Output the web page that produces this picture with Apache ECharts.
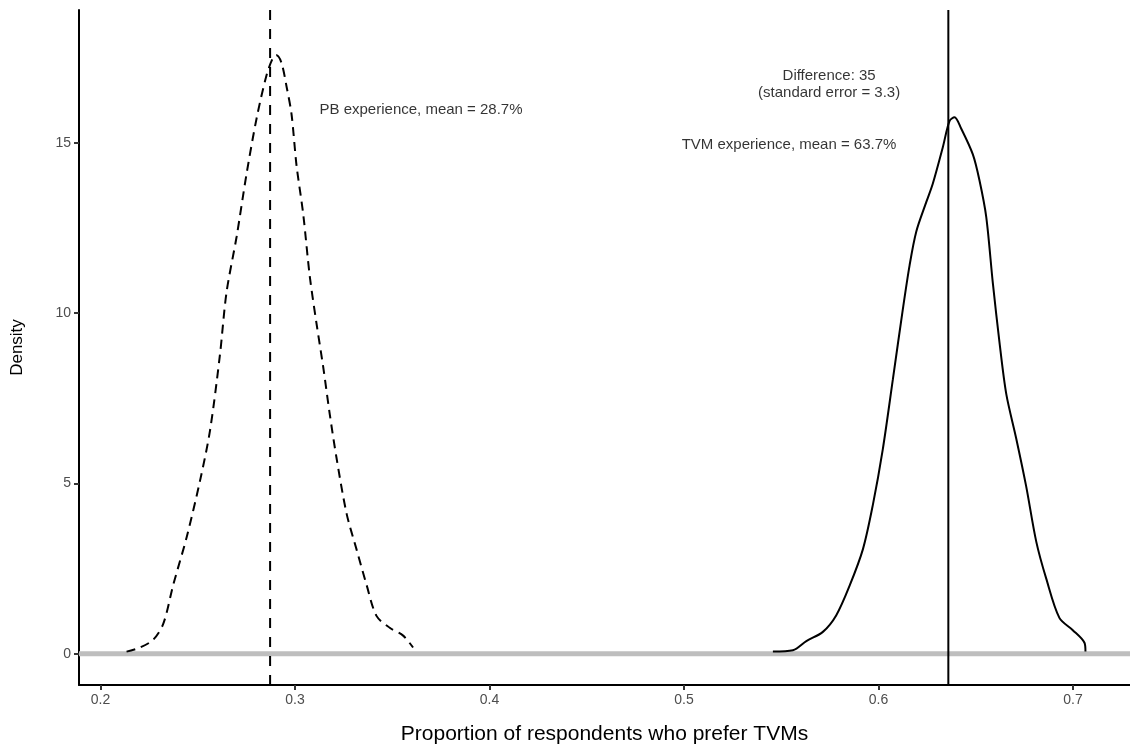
<!DOCTYPE html>
<html>
<head>
<meta charset="utf-8">
<script src="https://cdn.jsdelivr.net/npm/echarts@6/dist/echarts.min.js"></script>
<style>
  html, body { margin: 0; padding: 0; background: #fff; }
  #main { width: 1130px; height: 750px; }
</style>
</head>
<body>
<div id="main"></div>
<script>
// density of PB-experience group (dashed)
var pbX = [0.2134, 0.2203, 0.2271, 0.2323, 0.2374, 0.2443, 0.2511, 0.2563, 0.2614, 0.2648, 0.2700, 0.2751, 0.2803, 0.2854, 0.2888, 0.2905,
           0.2931, 0.2957, 0.2982, 0.3008, 0.3042, 0.3076, 0.3111, 0.3145, 0.3179, 0.3214, 0.3265, 0.3316, 0.3368, 0.3419, 0.3487, 0.3556, 0.3607];
var pbY = [0.06, 0.18, 0.41, 0.88, 2.02, 3.42, 5.06, 6.55, 8.77, 10.61, 12.25, 14.09, 15.73, 16.99, 17.51, 17.57,
           17.34, 16.64, 15.85, 14.33, 12.92, 11.08, 9.68, 8.42, 7.02, 5.73, 4.12, 3.07, 2.02, 1.11, 0.76, 0.53, 0.18];
// density of TVM-experience group (solid)
var tvmX = [0.5457, 0.5560, 0.5629, 0.5714, 0.5783, 0.5851, 0.5920, 0.5971, 0.6022, 0.6074, 0.6125, 0.6160, 0.6194, 0.6245, 0.6279, 0.6331, 0.6365, 0.6391,
            0.6425, 0.6485, 0.6519, 0.6554, 0.6588, 0.6622, 0.6657, 0.6708, 0.6759, 0.6811, 0.6862, 0.6930, 0.6999, 0.7059, 0.7064];
var tvmY = [0.06, 0.10, 0.37, 0.64, 1.13, 1.99, 3.07, 4.37, 6.00, 8.06, 10.11, 11.41, 12.39, 13.25, 13.80, 14.88, 15.64, 15.75,
            15.42, 14.66, 13.90, 12.82, 10.87, 9.14, 7.62, 6.32, 4.92, 3.29, 2.21, 1.05, 0.69, 0.32, 0.06];
var pbMean = 0.2872;
var tvmMean = 0.6359;
var xTicks = [0.2, 0.3, 0.4, 0.5, 0.6, 0.7];
var yTicks = [0, 5, 10, 15];
var xRange = [0.18895, 0.7293];
var yRange = [-0.92, 18.9];
var notes = [
    [0.3126, 15.96, 'PB experience, mean = 28.7%', 'left'],
    [0.5746, 16.73, 'Difference: 35\n(standard error = 3.3)', 'center'],
    [0.5540, 14.95, 'TVM experience, mean = 63.7%', 'center']
];

function zip(xs, ys) {
    return xs.map(function (x, i) { return [x, ys[i]]; });
}

var chart = echarts.init(document.getElementById('main'));
var font = 'Liberation Sans, Arial, sans-serif';

chart.setOption({
    animation: false,
    grid: { left: 79, right: 0, top: 10, bottom: 62 },
    xAxis: {
        type: 'value',
        min: xRange[0],
        max: xRange[1],
        name: 'Proportion of respondents who prefer TVMs',
        nameLocation: 'middle',
        nameGap: 39,
        nameTextStyle: { fontFamily: font, fontSize: 21, color: '#000' },
        axisLine: { onZero: false, lineStyle: { color: '#000', width: 2 } },
        axisTick: { customValues: xTicks, length: 5, lineStyle: { color: '#333', width: 2 } },
        axisLabel: { customValues: xTicks, fontFamily: font, fontSize: 14, color: '#4d4d4d', margin: 8 },
        splitLine: { show: false }
    },
    yAxis: {
        type: 'value',
        min: yRange[0],
        max: yRange[1],
        name: 'Density',
        nameLocation: 'middle',
        nameGap: 53,
        nameTextStyle: { fontFamily: font, fontSize: 17, color: '#000' },
        axisLine: { onZero: false, lineStyle: { color: '#000', width: 2 } },
        axisTick: { customValues: yTicks, length: 5, lineStyle: { color: '#333', width: 2 } },
        axisLabel: { customValues: yTicks, fontFamily: font, fontSize: 14, color: '#4d4d4d', margin: 8 },
        splitLine: { show: false }
    },
    series: [
        {
            // grey zero baseline
            type: 'line',
            data: [[xRange[0], 0], [xRange[1], 0]],
            showSymbol: false,
            silent: true,
            lineStyle: { color: '#bebebe', width: 5 }
        },
        {
            name: 'PB',
            type: 'line',
            data: zip(pbX, pbY),
            smooth: 0.3,
            showSymbol: false,
            lineStyle: { color: '#000', width: 2, type: [9, 6] }
        },
        {
            name: 'TVM',
            type: 'line',
            data: zip(tvmX, tvmY),
            smooth: 0.3,
            showSymbol: false,
            lineStyle: { color: '#000', width: 2, type: 'solid' }
        },
        {
            // mean lines
            type: 'line',
            data: [[pbMean, yRange[0]], [pbMean, yRange[1]]],
            showSymbol: false,
            silent: true,
            lineStyle: { color: '#000', width: 2, type: [10, 9] }
        },
        {
            type: 'line',
            data: [[tvmMean, yRange[0]], [tvmMean, yRange[1]]],
            showSymbol: false,
            silent: true,
            lineStyle: { color: '#000', width: 2, type: 'solid' }
        },
        {
            type: 'scatter',
            symbolSize: 0,
            silent: true,
            data: notes.map(function (n) {
                return {
                    value: [n[0], n[1]],
                    label: {
                        show: true,
                        position: n[3] === 'left' ? 'right' : 'inside',
                        distance: 0,
                        formatter: n[2],
                        align: n[3],
                        verticalAlign: 'middle',
                        fontFamily: font,
                        fontSize: 15,
                        lineHeight: 17,
                        color: '#000'
                    }
                };
            })
        }
    ]
});
</script>
</body>
</html>
